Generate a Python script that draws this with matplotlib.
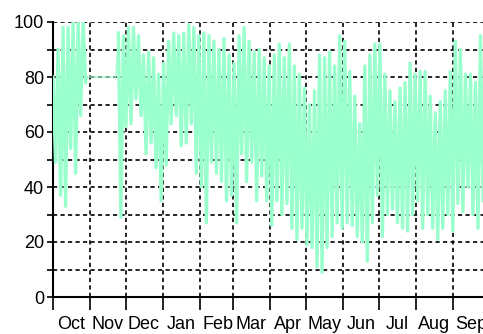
import numpy as np
import pandas as pd
import matplotlib
matplotlib.use("Agg")
import matplotlib.pyplot as plt
import matplotlib.dates as mdates
from matplotlib.ticker import MultipleLocator, NullFormatter

START = "2004-10-01"
END   = "2005-09-26"

# high / low of the trace in consecutive ~4 day windows
hi = [80, 90, 98, 98, 100, 100, 100, 80, 80, 80, 80, 80, 80, 96, 95, 98,
      98, 95, 88, 89, 87, 81, 85, 93, 96, 95, 96, 99, 98, 95, 96, 95,
      93, 90, 94, 88, 85, 95, 98, 93, 89, 90, 87, 84, 88, 92, 87, 92,
      84, 81, 76, 70, 75, 88, 87, 89, 84, 95, 93, 82, 73, 63, 84, 88,
      92, 92, 81, 75, 71, 76, 78, 85, 81, 82, 82, 73, 67, 71, 75, 82,
      93, 90, 81, 81, 78, 95]
lo = [49, 37, 33, 54, 45, 66, 78, 80, 80, 80, 80, 80, 80, 29, 62, 63,
      72, 66, 52, 56, 47, 35, 48, 63, 66, 55, 56, 63, 45, 40, 27, 49,
      45, 42, 35, 37, 27, 52, 42, 49, 35, 44, 35, 26, 35, 30, 34, 25,
      21, 25, 19, 18, 11, 9, 18, 22, 27, 25, 27, 26, 22, 20, 13, 27,
      37, 22, 30, 32, 27, 25, 24, 30, 35, 25, 30, 25, 21, 25, 30, 24,
      34, 31, 40, 30, 25, 35]

n = len(hi)
t = pd.date_range(START, END, periods=2 * n)
vals = np.empty(2 * n)
vals[0::2] = hi
vals[1::2] = lo

# the logger was stuck on one value for a few weeks in Oct/Nov
flat = np.repeat(np.array(hi) == np.array(lo), 2)
busy = vals.copy()
busy[flat] = np.nan

plt.rcParams["font.family"] = ["Liberation Sans", "DejaVu Sans"]

fig = plt.figure(figsize=(4.83, 3.34), dpi=100)
ax = fig.add_axes([53 / 483, 37 / 334, 430 / 483, 275 / 334])

ax.plot(t, vals, color="#99ffcc", lw=0.9, zorder=3)
ax.plot(t, busy, color="#99ffcc", lw=2.4, zorder=3)

ax.set_xlim(pd.Timestamp(START), pd.Timestamp(END))
ax.set_ylim(0, 100)

ax.xaxis.set_major_locator(mdates.MonthLocator())
ax.xaxis.set_major_formatter(NullFormatter())
ax.xaxis.set_minor_locator(mdates.MonthLocator(bymonthday=16))
ax.xaxis.set_minor_formatter(mdates.DateFormatter("%b"))
ax.yaxis.set_major_locator(MultipleLocator(20))
ax.yaxis.set_minor_locator(MultipleLocator(10))

ax.tick_params(axis="x", which="major", length=9.4, width=1.2, color="black")
ax.tick_params(axis="x", which="minor", length=0, pad=14, labelsize=13)
ax.tick_params(axis="y", which="both", length=4.3, width=1.2, pad=2, labelsize=13)

ax.grid(True, which="major", axis="x", color="black", lw=1.2, ls=(0, (2.5, 2)))
ax.grid(True, which="both", axis="y", color="black", lw=1.2, ls=(0, (2.5, 2)))
ax.set_axisbelow(True)

for side in ["top", "right"]:
    ax.spines[side].set_visible(False)
for side in ["left", "bottom"]:
    ax.spines[side].set_linewidth(1.5)
    ax.spines[side].set_zorder(2.5)

fig.savefig("out.png", dpi=100)
plt.close()
